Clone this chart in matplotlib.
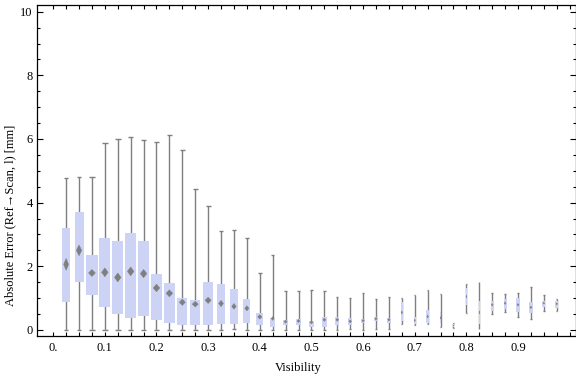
import matplotlib
matplotlib.use("Agg")
import matplotlib.pyplot as plt
from matplotlib.ticker import MultipleLocator

plt.rcParams['font.family'] = ['Liberation Serif', 'DejaVu Serif']
plt.rcParams['font.size'] = 9

# visibility bins (box centres)
visibility = [0.025, 0.05, 0.075, 0.1, 0.125, 0.15, 0.175, 0.2, 0.225, 0.25,
              0.275, 0.3, 0.325, 0.35, 0.375, 0.4, 0.425, 0.45, 0.475, 0.5,
              0.525, 0.55, 0.575, 0.6, 0.625, 0.65, 0.675, 0.7, 0.725, 0.75,
              0.775, 0.8, 0.825, 0.85, 0.875, 0.9, 0.925, 0.95, 0.975]

# box-whisker stats per bin [mm]
whisker_lo = [0, 0, 0, 0, 0, 0, 0, 0, 0, 0,
              0, 0, 0, 0.02, 0, 0, 0, 0, 0, 0,
              0, 0, 0.02, 0, 0.04, 0.02, 0.19, 0.14, 0.19, 0.10,
              0.07, 0.53, 0.04, 0.50, 0.56, 0.40, 0.35, 0.59, 0.59]
q1 = [0.89, 1.52, 1.10, 0.73, 0.51, 0.39, 0.45, 0.32, 0.23, 0.14,
      0.17, 0.14, 0.20, 0.20, 0.23, 0.14, 0.10, 0.14, 0.17, 0.10,
      0.10, 0.17, 0.17, 0.22, 0.28, 0.22, 0.29, 0.19, 0.23, 0.21,
      0.09, 0.79, 0.20, 0.59, 0.66, 0.56, 0.52, 0.73, 0.70]
mean = [2.06, 2.50, 1.79, 1.81, 1.65, 1.84, 1.77, 1.32, 1.15, 0.87,
        0.81, 0.93, 0.83, 0.74, 0.68, 0.41, 0.36, 0.26, 0.28, 0.24,
        0.32, 0.32, 0.27, 0.29, 0.35, 0.32, 0.55, 0.30, 0.42, 0.38,
        0.14, 1.05, 0.55, 0.79, 0.84, 0.79, 0.71, 0.84, 0.82]
q3 = [3.20, 3.70, 2.36, 2.89, 2.80, 3.05, 2.80, 1.76, 1.48, 1.01,
      0.94, 1.51, 1.45, 1.29, 0.97, 0.53, 0.39, 0.31, 0.35, 0.28,
      0.41, 0.41, 0.38, 0.35, 0.41, 0.39, 0.89, 0.42, 0.63, 0.57,
      0.19, 1.32, 0.90, 0.92, 0.96, 1.00, 0.89, 0.92, 0.92]
whisker_hi = [4.77, 4.80, 4.80, 5.86, 5.99, 6.05, 5.96, 5.90, 6.13, 5.64,
              4.42, 3.89, 3.10, 3.13, 2.88, 1.78, 2.35, 1.21, 1.21, 1.25,
              1.21, 1.03, 1.00, 1.15, 0.96, 1.03, 1.00, 1.10, 1.25, 1.13,
              0.21, 1.45, 1.51, 1.15, 1.13, 1.15, 1.34, 1.09, 0.96]
# half height of the mean diamond
mean_ci = [0.19, 0.17, 0.11, 0.14, 0.14, 0.14, 0.13, 0.12, 0.11, 0.10,
           0.09, 0.10, 0.10, 0.09, 0.08, 0.07, 0.06, 0.05, 0.05, 0.05,
           0.05, 0.05, 0.05, 0.04, 0.04, 0.04, 0.05, 0.04, 0.05, 0.04,
           0.02, 0.05, 0.05, 0.04, 0.04, 0.04, 0.04, 0.03, 0.03]
# box widths (scale with bin size)
box_width = [0.016, 0.0175, 0.022, 0.021, 0.0213, 0.0213, 0.0213, 0.0213, 0.0213, 0.0194,
             0.0194, 0.0194, 0.0155, 0.0145, 0.0136, 0.0136, 0.0097, 0.0097, 0.0097, 0.0097,
             0.0097, 0.0087, 0.0087, 0.0078, 0.0078, 0.0078, 0.0045, 0.0039, 0.0045, 0.0023,
             0.0029, 0.0019, 0.001, 0.0058, 0.0058, 0.0064, 0.0064, 0.0058, 0.0058]

box_color = '#CCD3F5'
line_color = '#7F7F7F'

fig = plt.figure(figsize=(5.76, 3.77), dpi=100)
ax = fig.add_axes([0.0637, 0.1088, 0.936, 0.8788])

# whiskers + caps
ax.vlines(visibility, whisker_lo, whisker_hi, color=line_color, lw=1.0, zorder=1)
cap_lo = [v - w * 0.25 for v, w in zip(visibility, box_width)]
cap_hi = [v + w * 0.25 for v, w in zip(visibility, box_width)]
ax.hlines(whisker_lo, cap_lo, cap_hi, color=line_color, lw=1.0, zorder=1)
ax.hlines(whisker_hi, cap_lo, cap_hi, color=line_color, lw=1.0, zorder=1)

# boxes
heights = [b - a for a, b in zip(q1, q3)]
ax.bar(visibility, heights, bottom=q1, width=box_width, color=box_color,
       edgecolor='none', zorder=2)

# mean diamonds
for v, m, c, w in zip(visibility, mean, mean_ci, box_width):
    hw = w * 0.3
    ax.fill([v - hw, v, v + hw, v], [m, m + c, m, m - c], color=line_color,
            lw=0.3, zorder=3)

ax.set_xlim(-0.032, 1.012)
ax.set_ylim(-0.19, 10.22)

xt = [i * 0.025 for i in range(41)]
ax.set_xticks(xt)
ax.set_xticklabels(['0.' if i == 0 else ('%.1f' % (i * 0.025) if i % 4 == 0 and i < 40 else '')
                    for i in range(41)])
ax.set_yticks([0, 2, 4, 6, 8, 10])
ax.yaxis.set_minor_locator(MultipleLocator(0.5))

ax.tick_params(axis='x', direction='in', top=True, length=3, width=0.8, pad=4)
ax.tick_params(axis='y', which='major', direction='in', right=True, length=4.2, width=0.8, pad=3)
ax.tick_params(axis='y', which='minor', direction='in', right=True, length=2.2, width=0.8)
for s in ax.spines.values():
    s.set_linewidth(0.9)

ax.set_xlabel('Visibility')
ax.xaxis.set_label_coords(0.485, -0.08)
ax.set_ylabel('Absolute Error (Ref\u2192Scan, l) [mm]')
ax.yaxis.set_label_coords(-0.038, 0.365)

fig.savefig('out.png', dpi=100)
